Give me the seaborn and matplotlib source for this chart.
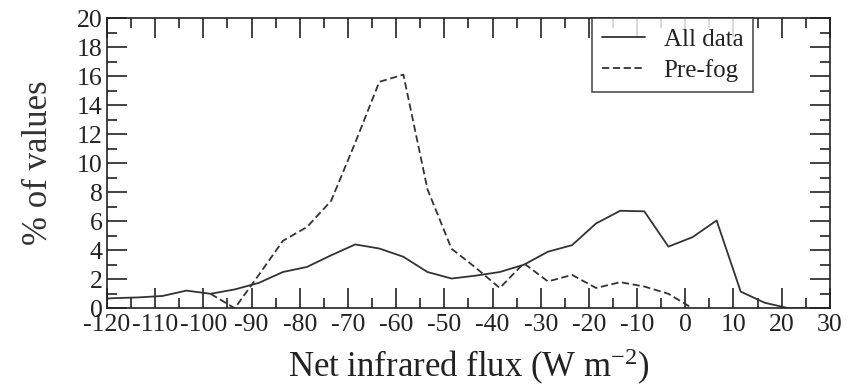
import numpy as np
import pandas as pd
import matplotlib
matplotlib.use("Agg")
import matplotlib.pyplot as plt
import seaborn as sns
from matplotlib.ticker import MultipleLocator
from matplotlib.lines import Line2D

# ---- data ----
all_x = [-123.5, -118.5, -113.5, -108.5, -103.5, -98.5, -93.5, -88.5, -83.5, -78.5,
         -73.5, -68.5, -63.5, -58.5, -53.5, -48.5, -43.5, -38.5, -33.5, -28.5,
         -23.5, -18.5, -13.5, -8.5, -3.5, 1.5, 6.5, 11.5, 16.5, 21.5, 26.5, 31.5]
all_y = [0.6, 0.7, 0.75, 0.85, 1.22, 1.0, 1.3, 1.75, 2.5, 2.85,
         3.65, 4.4, 4.12, 3.55, 2.5, 2.05, 2.25, 2.5, 3.0, 3.9,
         4.35, 5.85, 6.72, 6.68, 4.25, 4.9, 6.05, 1.15, 0.38, 0.0, 0.0, 0.0]

pre_x = [-98.5, -93.5, -88.5, -83.5, -78.5, -73.5, -68.5, -63.5, -58.5, -53.5,
         -48.5, -43.5, -38.5, -33.5, -28.5, -23.5, -18.5, -13.5, -8.5, -3.5, 1.5]
pre_y = [1.0, 0.0, 2.3, 4.65, 5.6, 7.4, 11.4, 15.6, 16.1, 8.2,
         4.1, 2.8, 1.4, 3.1, 1.85, 2.3, 1.4, 1.8, 1.5, 1.0, 0.0]

series_names = ["All data", "Pre-fog"]
x_ticks = list(range(-120, 31, 10))
y_ticks = list(range(0, 21, 2))

df = pd.concat([
    pd.DataFrame({"x": all_x, "y": all_y, "series": series_names[0]}),
    pd.DataFrame({"x": pre_x, "y": pre_y, "series": series_names[1]}),
], ignore_index=True)

sns.set_style("ticks")
plt.rcParams["font.family"] = ["Liberation Serif", "DejaVu Serif"]
plt.rcParams["mathtext.fontset"] = "custom"
plt.rcParams["mathtext.rm"] = "Liberation Serif"
plt.rcParams["mathtext.it"] = "Liberation Serif:italic"
plt.rcParams["axes.unicode_minus"] = False

fig = plt.figure(figsize=(8.52, 3.88), dpi=100)
ax = fig.add_axes([0.1256, 0.2054, 0.974 - 0.1256, 0.9536 - 0.2054])

sns.lineplot(data=df, x="x", y="y", style="series",
             dashes={series_names[0]: "", series_names[1]: (4, 2)},
             color="#333333", linewidth=1.3, ax=ax, legend=False)

ax.set_xlim(-120, 30)
ax.set_ylim(0, 20)
ax.set_xticks(x_ticks)
ax.set_xticklabels([str(t) for t in x_ticks])
ax.set_yticks(y_ticks)
ax.set_yticklabels([str(t) for t in y_ticks])
ax.xaxis.set_minor_locator(MultipleLocator(5))
ax.yaxis.set_minor_locator(MultipleLocator(1))

ax.tick_params(which="both", direction="in", top=True, right=True,
               colors="#222222", width=1.2)
ax.tick_params(which="major", length=14.5, labelsize=18.5, pad=4)
ax.tick_params(which="minor", length=7)
ax.tick_params(axis="y", which="major", pad=3)

for s in ax.spines.values():
    s.set_linewidth(1.2)
    s.set_color("#222222")

ax.set_xlabel("Net infrared flux (W m$^{-2}$)", fontsize=25, labelpad=8, color="#222222")
ax.set_ylabel("% of values", fontsize=25, labelpad=16, color="#333333")

handles = [Line2D([], [], color="#333333", lw=1.3, linestyle="-"),
           Line2D([], [], color="#333333", lw=1.3, linestyle=(0, (4, 2)))]
leg = ax.legend(handles, series_names, loc="upper right",
                bbox_to_anchor=(0.894, 1.0), fontsize=18, frameon=True,
                fancybox=False, handlelength=1.7, handletextpad=0.75,
                borderpad=0.4, labelspacing=0.35, borderaxespad=0.0)
leg.get_frame().set_edgecolor("#222222")
leg.get_frame().set_linewidth(1.2)
for t in leg.get_texts():
    t.set_color("#222222")

fig.savefig("out.png", dpi=100)
